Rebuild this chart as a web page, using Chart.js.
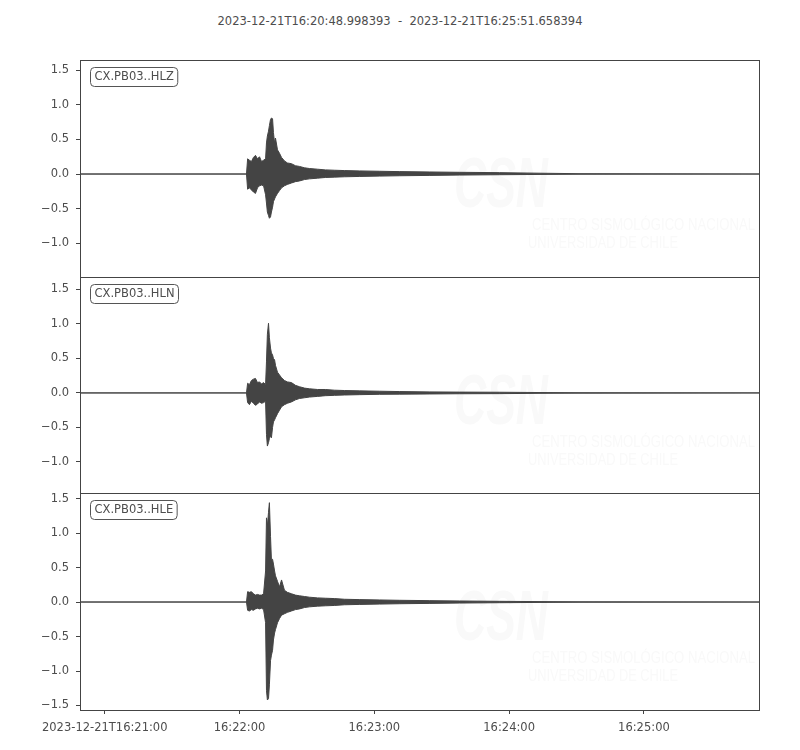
<!DOCTYPE html>
<html>
<head>
<meta charset="utf-8">
<script src="https://cdn.jsdelivr.net/npm/chart.js@4/dist/chart.umd.min.js"></script>
<style>
  body { margin: 0; background: #fff; }
  #wrap { position: relative; width: 800px; height: 750px; font-family: "DejaVu Sans", sans-serif; }
  #title { position: absolute; top: 14px; left: 0; width: 800px; text-align: center; font-size: 11.5px; color: #4d4d4d; white-space: pre; }
  canvas { position: absolute; left: 0; }
</style>
</head>
<body>
<div id="wrap">
  <div id="title">2023-12-21T16:20:48.998393  -  2023-12-21T16:25:51.658394</div>
  <canvas id="c1" width="800" height="237" style="top:50px"></canvas>
  <canvas id="c2" width="800" height="236" style="top:267px"></canvas>
  <canvas id="c3" width="800" height="267" style="top:483px"></canvas>
</div>
<script>
// time in seconds after 16:21:00
const tMin = -11.001607;
const tMax = 291.658394;
const xTicks = [0, 60, 120, 180, 240];
const xTickLabels = ["2023-12-21T16:21:00", "16:22:00", "16:23:00", "16:24:00", "16:25:00"];

const times = [-11.0, 63.1, 63.6, 64.4, 65.3, 66.2, 67.1, 68.0, 68.9, 69.8,
  70.7, 71.6, 72.0, 72.4, 72.9, 73.3, 73.8, 74.2, 74.7, 75.1,
  75.6, 76.0, 76.9, 77.8, 78.7, 80.0, 81.3, 83.1, 84.9, 86.7,
  88.9, 91.1, 94.7, 98.2, 102.2, 106.7, 113.3, 122.2, 131.1, 144.4,
  157.8, 175.6, 193.3, 211.1, 291.6];

// envelope of each trace (upper / lower)
const hlzUp = [0, 0, 0.22, 0.20, 0.18, 0.24, 0.27, 0.22, 0.25, 0.18,
  0.20, 0.22, 0.45, 0.55, 0.62, 0.70, 0.79, 0.81, 0.80, 0.60,
  0.45, 0.52, 0.35, 0.30, 0.24, 0.19, 0.16, 0.15, 0.12, 0.11,
  0.09, 0.08, 0.07, 0.06, 0.055, 0.05, 0.045, 0.04, 0.035, 0.03,
  0.025, 0.02, 0.012, 0.005, 0];
const hlzLo = [0, 0, -0.22, -0.20, -0.23, -0.26, -0.28, -0.20, -0.17, -0.16,
  -0.17, -0.30, -0.42, -0.55, -0.60, -0.64, -0.62, -0.55, -0.48, -0.40,
  -0.36, -0.33, -0.28, -0.24, -0.20, -0.17, -0.15, -0.13, -0.11, -0.10,
  -0.08, -0.07, -0.06, -0.05, -0.045, -0.04, -0.035, -0.03, -0.025, -0.02,
  -0.015, -0.01, -0.006, -0.003, 0];

const hlnUp = [0, 0, 0.14, 0.12, 0.18, 0.20, 0.21, 0.15, 0.16, 0.13,
  0.15, 0.12, 0.45, 0.85, 1.01, 0.80, 0.65, 0.58, 0.55, 0.50,
  0.48, 0.40, 0.30, 0.26, 0.22, 0.18, 0.16, 0.15, 0.11, 0.09,
  0.07, 0.06, 0.05, 0.05, 0.04, 0.035, 0.03, 0.025, 0.02, 0.015,
  0.012, 0.01, 0.006, 0.003, 0];
const hlnLo = [0, 0, -0.14, -0.17, -0.12, -0.15, -0.18, -0.16, -0.13, -0.15,
  -0.14, -0.12, -0.60, -0.77, -0.72, -0.66, -0.62, -0.65, -0.50, -0.42,
  -0.39, -0.36, -0.30, -0.25, -0.20, -0.17, -0.15, -0.13, -0.10, -0.08,
  -0.07, -0.06, -0.05, -0.04, -0.035, -0.03, -0.025, -0.02, -0.018, -0.015,
  -0.012, -0.01, -0.006, -0.003, 0];

const hleUp = [0, 0, 0.15, 0.14, 0.15, 0.12, 0.10, 0.11, 0.10, 0.10,
  0.12, 0.45, 1.22, 1.10, 1.30, 1.44, 0.95, 0.61, 0.62, 0.55,
  0.45, 0.38, 0.30, 0.22, 0.32, 0.17, 0.14, 0.12, 0.10, 0.09,
  0.08, 0.07, 0.06, 0.055, 0.05, 0.04, 0.035, 0.03, 0.025, 0.02,
  0.015, 0.01, 0.006, 0.003, 0];
const hleLo = [0, 0, -0.12, -0.13, -0.11, -0.12, -0.10, -0.09, -0.10, -0.09,
  -0.11, -0.30, -1.28, -1.42, -1.40, -1.20, -0.85, -0.77, -0.70, -0.55,
  -0.45, -0.40, -0.30, -0.24, -0.19, -0.17, -0.15, -0.13, -0.11, -0.10,
  -0.08, -0.07, -0.06, -0.055, -0.05, -0.04, -0.035, -0.03, -0.025, -0.02,
  -0.015, -0.01, -0.006, -0.003, 0];

const yTicks12 = [-1.0, -0.5, 0, 0.5, 1.0, 1.5];
const yTicks3 = [-1.5, -1.0, -0.5, 0, 0.5, 1.0, 1.5];

const ink = "#444444";
const txt = "#4d4d4d";
const font = {family: "DejaVu Sans", size: 11.5};

const frame = {
  id: "frame",
  beforeDatasetsDraw(chart) {
    let a = chart.chartArea, ctx = chart.ctx;
    // very faint watermark
    ctx.save();
    ctx.fillStyle = "#f9f9f9";
    ctx.textBaseline = "alphabetic";
    ctx.font = "italic bold 70px 'Liberation Sans', sans-serif";
    ctx.fillText("CSN", 454, a.top + 147, 94);
    ctx.font = "17px 'Liberation Sans', sans-serif";
    ctx.fillText("CENTRO SISMOLÓGICO NACIONAL", 532, a.top + 170, 223);
    ctx.fillText("UNIVERSIDAD DE CHILE", 528, a.top + 188, 150);
    ctx.restore();
  },
  afterDatasetsDraw(chart, args, opts) {
    let a = chart.chartArea, ctx = chart.ctx;
    ctx.save();
    ctx.strokeStyle = ink;
    ctx.lineWidth = 1;
    ctx.strokeRect(a.left + 0.5, a.top + 0.5, a.right - a.left - 1, a.bottom - a.top);
    // station label box
    ctx.font = "11.5px 'DejaVu Sans'";
    let w = ctx.measureText(opts.label).width;
    let bx = a.left + 10.5, by = a.top + 7.5;
    ctx.beginPath();
    ctx.roundRect(bx, by, w + 8, 19, 4);
    ctx.fillStyle = "#fff";
    ctx.fill();
    ctx.strokeStyle = "#555";
    ctx.stroke();
    ctx.fillStyle = txt;
    ctx.textBaseline = "middle";
    ctx.fillText(opts.label, bx + 4, by + 10);
    ctx.restore();
  }
};

function makeTrace(id, label, up, lo, yMin, yMax, yTicks, showX) {
  let upPts = times.map((t, i) => ({x: t, y: up[i]}));
  let loPts = times.map((t, i) => ({x: t, y: lo[i]}));
  new Chart(document.getElementById(id), {
    type: "line",
    data: {
      datasets: [
        { data: upPts, borderColor: ink, backgroundColor: ink, borderWidth: 1,
          pointRadius: 0, tension: 0, fill: "+1" },
        { data: loPts, borderColor: ink, backgroundColor: ink, borderWidth: 1,
          pointRadius: 0, tension: 0, fill: false }
      ]
    },
    options: {
      responsive: false,
      animation: false,
      layout: {padding: {left: 0, right: 40, top: 10, bottom: showX ? 0 : 10}},
      plugins: {legend: {display: false}, tooltip: {enabled: false}, frame: {label: label}},
      scales: {
        x: {
          type: "linear", min: tMin, max: tMax, display: showX,
          afterBuildTicks: s => { s.ticks = xTicks.map(v => ({value: v})); },
          afterFit: s => { if (showX) s.height = 40; s.paddingLeft = 0; s.paddingRight = 0; },
          grid: {drawOnChartArea: false, tickLength: 4, color: ink},
          border: {display: false},
          ticks: {
            color: txt, font: font, padding: 7, maxRotation: 0, autoSkip: false,
            callback: (v) => xTickLabels[xTicks.indexOf(v)]
          }
        },
        y: {
          min: yMin, max: yMax,
          afterBuildTicks: s => { s.ticks = yTicks.map(v => ({value: v})); },
          afterFit: s => { s.width = 80; s.paddingTop = 0; s.paddingBottom = 0; },
          grid: {drawOnChartArea: false, tickLength: 4, color: ink},
          border: {display: false},
          ticks: {
            color: txt, font: font, padding: 7,
            callback: v => (v < 0 ? "\u2212" : "") + Math.abs(v).toFixed(1)
          }
        }
      }
    },
    plugins: [frame]
  });
}

makeTrace("c1", "CX.PB03..HLZ", hlzUp, hlzLo, -1.49, 1.65, yTicks12, false);
makeTrace("c2", "CX.PB03..HLN", hlnUp, hlnLo, -1.45, 1.68, yTicks12, false);
makeTrace("c3", "CX.PB03..HLE", hleUp, hleLo, -1.565, 1.58, yTicks3, true);
</script>
</body>
</html>
